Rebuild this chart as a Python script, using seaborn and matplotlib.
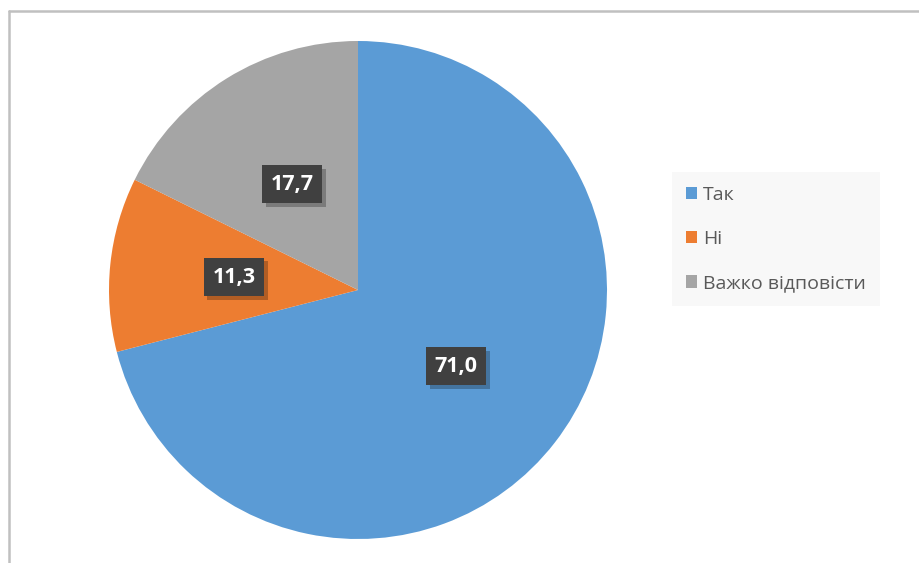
import matplotlib
matplotlib.use("Agg")
import matplotlib.pyplot as plt
import matplotlib.patheffects as pe
import seaborn as sns
from matplotlib.lines import Line2D
from matplotlib.patches import Patch
import numpy as np

categories = ["Так", "Ні", "Важко відповісти"]
values = [71.0, 11.3, 17.7]
value_labels = ["71,0", "11,3", "17,7"]
colors = ["#5B9BD5", "#ED7D31", "#A5A5A5"]

sns.set_theme(style="white")
plt.rcParams['font.family'] = ['Open Sans', 'DejaVu Sans']

W, H = 919, 563
fig = plt.figure(figsize=(W / 100, H / 100), dpi=100)
fig.patch.set_facecolor("white")

cx, cy, r = 358, 290, 249
ax = fig.add_axes([(cx - r) / W, (H - cy - r) / H, 2 * r / W, 2 * r / H])
wedges, _ = ax.pie(values, colors=colors, startangle=90, counterclock=False,
                   wedgeprops=dict(linewidth=0))
ax.set_xlim(-1, 1)
ax.set_ylim(-1, 1)
ax.set_aspect("equal")
ax.axis("off")

# data labels
start = 90.0
total = sum(values)
for v, lab in zip(values, value_labels):
    span = 360.0 * v / total
    mid = np.deg2rad(start - span / 2)
    start -= span
    x, y = 0.5 * np.cos(mid), 0.5 * np.sin(mid)
    t = ax.text(x, y, lab, ha="center", va="center", fontsize=15.5, fontweight="bold",
                color="white",
                bbox=dict(boxstyle="square,pad=0.4", facecolor="#404040", edgecolor="none"))
    t.get_bbox_patch().set_path_effects([
        pe.SimplePatchShadow(offset=(2.5, -2.5), shadow_rgbFace="black", alpha=0.25),
        pe.Normal()])

# legend
handles = [Patch(facecolor=c, edgecolor="none") for c in colors]
leg = fig.legend(handles, categories, loc="upper left",
                 bbox_to_anchor=(672 / W, 1 - 172 / H), frameon=True, fancybox=False,
                 facecolor="#f8f8f8", edgecolor="none", framealpha=1,
                 fontsize=14, labelspacing=1.36, handlelength=0.6, handleheight=0.6,
                 handletextpad=0.3, borderpad=0.7, borderaxespad=0,
                 labelcolor="#595959")

# chart frame (top and left edges visible)
fig.add_artist(Line2D([9 / W, 1.0], [1 - 11 / H, 1 - 11 / H], color="#c0c0c0",
                      linewidth=1.8, transform=fig.transFigure))
fig.add_artist(Line2D([9 / W, 9 / W], [0, 1 - 11 / H], color="#c0c0c0",
                      linewidth=1.8, transform=fig.transFigure))

fig.savefig("out.png", dpi=100)
